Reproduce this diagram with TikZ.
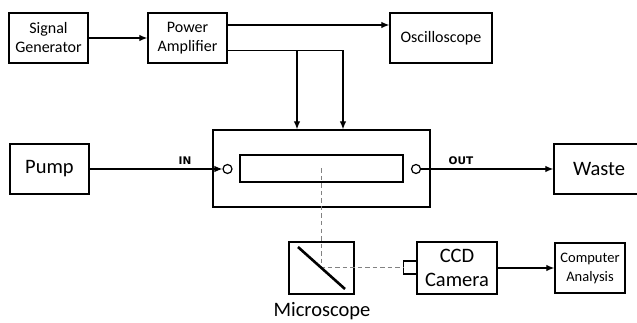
\documentclass[tikz,border=0pt]{standalone}
\usepackage{fontspec}
\setmainfont{Carlito}
\newfontfamily\portfont{DejaVu Sans}
\usetikzlibrary{arrows,arrows.meta}
\usetikzlibrary{math}
\definecolor{lgray}{RGB}{130,130,130}

\begin{document}
\begin{tikzpicture}[x=1pt,y=-1pt,
box/.style={draw, line width=1.3pt, inner sep=0pt, align=center},
smalltxt/.style={font=\fontsize{16}{19}\selectfont},
bigtxt/.style={font=\fontsize{20.5}{24}\selectfont},
flow/.style={line width=1.2pt, -{Latex[length=8pt,width=6.5pt]}},
beam/.style={draw=lgray, line width=1.5pt, dash pattern=on 4.5pt off 3pt}]
\tikzmath{
\W=79;
\H=50;
}
\useasboundingbox (0,0) rectangle (637,323);

% drive electronics
\node[box, smalltxt, minimum width=\W, minimum height=\H] (gen) at (48.5,38) {Signal\\Generator};
\node[box, smalltxt, minimum width=\W, minimum height=\H] (amp) at (187.5,38) {Power\\Amplifier};
\node[box, smalltxt, minimum width=102, minimum height=\H] (osc) at (441,38) {Oscilloscope};

% flow path
\node[box, bigtxt, minimum width=\W, minimum height=\H] (pump) at (49.5,169) {Pump};
\node[box, minimum width=217, minimum height=77] (chip) at (321.5,168.5) {};
\node[box, minimum width=163, minimum height=27] (tube) at (321.5,168.5) {};
\node[circle, draw, line width=1.2pt, minimum size=9, inner sep=0pt] (inlet) at (227.5,169) {};
\node[circle, draw, line width=1.2pt, minimum size=9, inner sep=0pt] (outlet) at (416,169) {};
\node[box, bigtxt, minimum width=90, minimum height=\H] (waste) at (599,169) {Waste};
\node[font=\portfont\bfseries\fontsize{10.5}{12}\selectfont] (inlbl) at (185,161) {IN};
\node[font=\portfont\bfseries\fontsize{10.5}{12}\selectfont] (outlbl) at (461,161) {OUT};

% imaging
\node[box, minimum width=65, minimum height=52] (mic) at (321.5,268) {};
\node[bigtxt] (miclbl) at (322,311.5) {Microscope};
\node[box, minimum width=13, minimum height=13] (lens) at (410,267.5) {};
\node[box, bigtxt, minimum width=80, minimum height=52] (ccd) at (457,268) {CCD\\Camera};
\node[box, font=\fontsize{14.5}{19}\selectfont, minimum width=70, minimum height=50] (pc) at (590,268) {Computer\\Analysis};

\coordinate (drive) at ([yshift=-12.5pt]amp.east);
\coordinate (padA) at ([xshift=-24.5pt]chip.north);
\coordinate (padB) at ([xshift=21.5pt]chip.north);

\draw[flow] (gen) -- (amp);
\draw[flow] ([yshift=13pt]amp.east) -- ([yshift=13pt]osc.west);
\draw[flow] (drive) -| (padB);
\draw[flow] (drive -| padA) -- (padA);
\draw[flow] (pump) -- (inlet);
\draw[flow] (outlet) -- (waste);
\draw[flow] (ccd) -- (pc);

\draw[beam] (tube.center) |- (lens.west);
\draw[line width=2.6pt] ([shift={(-23.5,-21)}]mic.center) -- ([shift={(23.5,21)}]mic.center);
\end{tikzpicture}
\end{document}
